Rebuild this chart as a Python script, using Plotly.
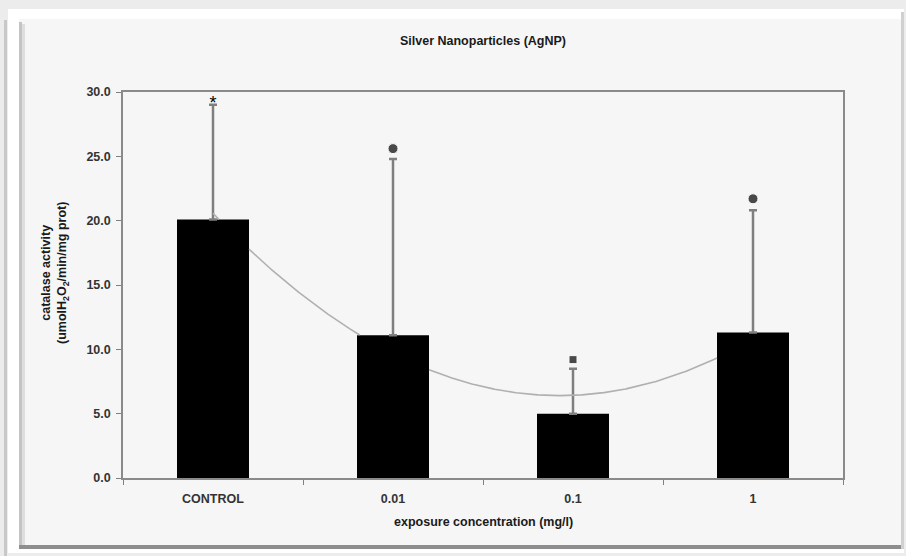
import numpy as np
import plotly.graph_objects as go

# ---------------- data ----------------
categories = ["CONTROL", "0.01", "0.1", "1"]
catalase_mean = [20.1, 11.1, 5.0, 11.3]
catalase_err_upper = [8.9, 13.7, 3.5, 9.5]
sig_symbols = ["*", "●", "■", "●"]
sig_y = [29.05, 25.6, 9.2, 21.7]
y_ticks = [0, 5, 10, 15, 20, 25, 30]

# ---------------- geometry helpers ----------------
W, H = 906, 556
L, R, T, B = 123, 63, 92, 78
PW, PH = W - L - R, H - T - B
BAR_W = 0.4


def px(x):
    return (x - L) / PW


def py(y):
    return (H - B - y) / PH


FONT = "Liberation Sans, Arial, sans-serif"
x_idx = list(range(len(categories)))

# polynomial (order 2) trendline through the bar means, as in the original chart.
# It runs behind the bars: the parts hidden by a bar are left out.
coef = np.polyfit(x_idx, catalase_mean, 2)
xs = np.round(np.linspace(x_idx[0], x_idx[-1], 1201), 6)
ys = np.polyval(coef, xs)
tx, ty = [], []
for xv, yv in zip(xs, ys):
    k = int(round(xv))
    hidden = abs(xv - k) < BAR_W / 2 - 1e-9 and yv < catalase_mean[k]
    tx.append(None if hidden else float(xv))
    ty.append(None if hidden else float(yv))

fig = go.Figure()

fig.add_trace(go.Scatter(x=tx, y=ty, mode="lines", connectgaps=False,
                         line=dict(color="#b0b0b0", width=1.6),
                         hoverinfo="skip", showlegend=False))

fig.add_trace(go.Bar(
    x=x_idx, y=catalase_mean, width=BAR_W,
    marker=dict(color="#000000", line=dict(color="#000000", width=0)),
    error_y=dict(type="data", symmetric=False, array=catalase_err_upper,
                 arrayminus=[0] * len(catalase_mean),
                 color="#7f7f7f", thickness=2.5, width=4),
    showlegend=False))

sym_map = {"●": ("circle", 10), "■": ("square", 8)}
mk_x = [i for i, s in zip(x_idx, sig_symbols) if s in sym_map]
mk_y = [v for v, s in zip(sig_y, sig_symbols) if s in sym_map]
mk_sym = [sym_map[s][0] for s in sig_symbols if s in sym_map]
mk_size = [sym_map[s][1] for s in sig_symbols if s in sym_map]
fig.add_trace(go.Scatter(x=mk_x, y=mk_y, mode="markers",
                         marker=dict(symbol=mk_sym, size=mk_size, color="#000000"),
                         showlegend=False))

st_x = [i for i, s in zip(x_idx, sig_symbols) if s == "*"]
st_y = [v for v, s in zip(sig_y, sig_symbols) if s == "*"]
fig.add_trace(go.Scatter(x=st_x, y=st_y, mode="text", text=["*"] * len(st_x),
                         textposition="middle center",
                         textfont=dict(family=FONT, size=18, color="#000000"),
                         showlegend=False))

# ---------------- frame decoration ----------------
shapes = [
    dict(type="rect", xref="paper", yref="paper", layer="below",
         x0=px(8), x1=px(904), y0=py(9), y1=py(553),
         fillcolor="#ffffff", line=dict(width=0)),
    dict(type="rect", xref="paper", yref="paper", layer="below",
         x0=px(19), x1=px(902), y0=py(19), y1=py(548),
         fillcolor="#f6f6f6", line=dict(width=0)),
    # left bevel
    dict(type="rect", xref="paper", yref="paper", layer="below",
         x0=px(19), x1=px(22), y0=py(22), y1=py(546),
         fillcolor="#c4c4c4", line=dict(width=0)),
    dict(type="rect", xref="paper", yref="paper", layer="below",
         x0=px(22), x1=px(25), y0=py(24), y1=py(545),
         fillcolor="#dedede", line=dict(width=0)),
    # bottom shadow
    dict(type="rect", xref="paper", yref="paper", layer="below",
         x0=px(19), x1=px(903), y0=py(545), y1=py(549),
         fillcolor="#8e8e8e", line=dict(width=0)),
    # right edge
    dict(type="rect", xref="paper", yref="paper", layer="below",
         x0=px(901), x1=px(904), y0=py(12), y1=py(549),
         fillcolor="#d0d0d0", line=dict(width=0)),
    # outer left gray strip
    dict(type="rect", xref="paper", yref="paper", layer="below",
         x0=px(4), x1=px(7), y0=py(20), y1=py(556),
         fillcolor="#c8c8c8", line=dict(width=0)),
]

annotations = [
    dict(text="catalase activity<br>(umolH<sub>2</sub>O<sub>2</sub>/min/mg prot)",
         xref="paper", yref="paper", x=px(55), y=py(273),
         xanchor="center", yanchor="middle", textangle=-90, showarrow=False,
         font=dict(family=FONT, size=12.5, color="#1a1a1a", weight="bold")),
    dict(text="exposure concentration (mg/l)",
         xref="paper", yref="paper", x=0.5, y=py(522),
         xanchor="center", yanchor="middle", showarrow=False,
         font=dict(family=FONT, size=12.5, color="#1a1a1a", weight="bold")),
]

boundaries = [i - 0.5 for i in range(len(categories) + 1)]

fig.update_layout(
    width=W, height=H,
    margin=dict(l=L, r=R, t=T, b=B, pad=0),
    paper_bgcolor="#ececec",
    plot_bgcolor="rgba(0,0,0,0)",
    showlegend=False,
    title=dict(text="Silver Nanoparticles (AgNP)", x=0.5, xref="paper",
               xanchor="center", y=1 - 41 / H, yanchor="middle",
               font=dict(family=FONT, size=12.5, color="#1a1a1a", weight="bold")),
    shapes=shapes,
    annotations=annotations,
    xaxis=dict(range=[-0.5, len(categories) - 0.5], tickmode="array",
               tickvals=x_idx, ticktext=categories,
               ticks="outside", ticklen=0, tickcolor="rgba(0,0,0,0)",
               ticklabelstandoff=8,
               minor=dict(tickmode="array", tickvals=boundaries, ticks="outside",
                          ticklen=5, tickcolor="#808080", tickwidth=1),
               showline=True, linecolor="#8a8a8a", linewidth=1.5, mirror=True,
               showgrid=False, zeroline=False,
               tickfont=dict(family=FONT, size=12.5, color="#333333", weight="bold")),
    yaxis=dict(range=[0, 30], tickmode="array", tickvals=y_ticks,
               ticktext=[f"{v:.1f}" for v in y_ticks],
               ticks="outside", ticklen=5, tickcolor="#808080",
               ticklabelstandoff=3,
               showline=True, linecolor="#8a8a8a", linewidth=1.5, mirror=True,
               showgrid=False, zeroline=False,
               tickfont=dict(family=FONT, size=12.5, color="#333333", weight="bold")),
)

fig.write_html("out.html")
